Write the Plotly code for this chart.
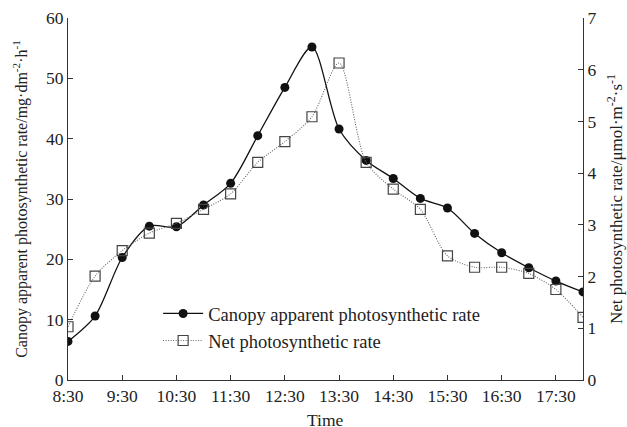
import plotly.graph_objects as go

times = [8.5 + 0.5 * i for i in range(20)]
tick_vals = [8.5, 9.5, 10.5, 11.5, 12.5, 13.5, 14.5, 15.5, 16.5, 17.5]
tick_text = ["8:30", "9:30", "10:30", "11:30", "12:30", "13:30", "14:30", "15:30", "16:30", "17:30"]

canopy = [6.4, 10.6, 20.3, 25.5, 25.4, 29.0, 32.6, 40.5, 48.5, 55.2,
          41.6, 36.4, 33.4, 30.1, 28.5, 24.3, 21.1, 18.6, 16.4, 14.6]
net = [1.03, 2.01, 2.50, 2.84, 3.03, 3.30, 3.60, 4.21, 4.61, 5.09,
       6.13, 4.21, 3.69, 3.30, 2.40, 2.18, 2.18, 2.06, 1.75, 1.21]

font_family = "Liberation Serif, Times New Roman, serif"
txt = "#222222"

fig = go.Figure()
fig.add_trace(go.Scatter(
    x=times, y=canopy, name="Canopy apparent photosynthetic rate",
    mode="lines+markers",
    line=dict(color="#111111", width=1.3, shape="spline", smoothing=0.8),
    marker=dict(symbol="circle", size=9, color="#111111"),
    yaxis="y"))
fig.add_trace(go.Scatter(
    x=times, y=net, name="Net photosynthetic rate",
    mode="lines+markers",
    line=dict(color="#666666", width=1.1, dash="1px,1.5px", shape="spline", smoothing=0.8),
    marker=dict(symbol="square-open", size=10, color="#444444", line=dict(width=1.2)),
    yaxis="y2"))

fig.update_layout(
    width=627, height=427,
    margin=dict(l=68, r=44, t=18, b=47),
    paper_bgcolor="white", plot_bgcolor="white",
    font=dict(family=font_family, size=17.5, color=txt),
    showlegend=True,
    legend=dict(x=0.175, y=0.235, xanchor="left", yanchor="top",
                bgcolor="rgba(0,0,0,0)", font=dict(size=18.5, color=txt),
                itemwidth=40, tracegroupgap=0),
    xaxis=dict(range=[8.5, 18.0], tickvals=tick_vals, ticktext=tick_text,
               showline=True, linecolor="#333333", linewidth=1.2,
               ticks="inside", ticklen=5, tickcolor="#333333",
               showgrid=False, zeroline=False,
               tickfont=dict(size=17.5),
               automargin=False),
    yaxis=dict(range=[0, 60], tickvals=[0, 10, 20, 30, 40, 50, 60],
               showline=True, linecolor="#333333", linewidth=1.2,
               ticks="inside", ticklen=5, tickcolor="#333333",
               showgrid=False, zeroline=False,
               tickfont=dict(size=17.5),
               title=dict(text="Canopy apparent photosynthetic rate/mg·dm<sup>-2</sup>·h<sup>-1</sup>",
                          font=dict(size=16), standoff=14),
               automargin=False),
    yaxis2=dict(range=[0, 7], tickvals=[0, 1, 2, 3, 4, 5, 6, 7],
                overlaying="y", side="right",
                showline=True, linecolor="#333333", linewidth=1.2,
                ticks="inside", ticklen=5, tickcolor="#333333",
                showgrid=False, zeroline=False,
                tickfont=dict(size=17.5),
                title=dict(text="Net photosynthetic rate/μmol·m<sup>-2</sup>·s<sup>-1</sup>",
                           font=dict(size=17), standoff=14),
                automargin=False),
    annotations=[dict(text="Time", xref="paper", yref="paper", x=0.5, y=-0.11,
                      xanchor="center", yanchor="middle", showarrow=False,
                      font=dict(size=17.5, color=txt))],
)

fig.write_html("out.html")
